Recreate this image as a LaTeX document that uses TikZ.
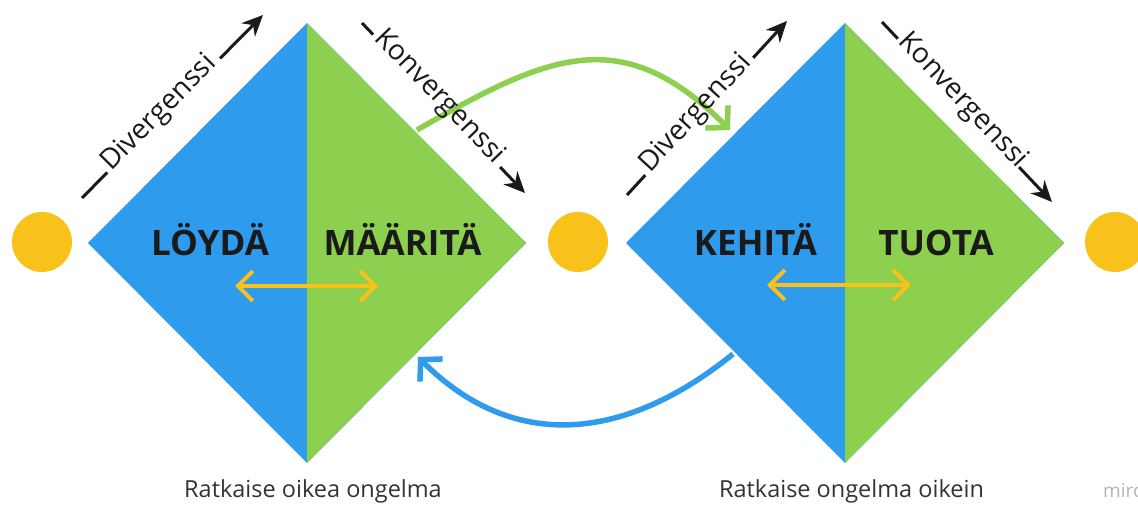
\documentclass[tikz,border=0pt]{standalone}
\usepackage{fontspec}
\setmainfont{Open Sans}
\usetikzlibrary{arrows.meta,calc}
\definecolor{dblue}{HTML}{2F9BEC}
\definecolor{dgreen}{HTML}{8DCF4E}
\definecolor{sun}{HTML}{F8C21A}
\definecolor{ink}{HTML}{1A1A1A}
\definecolor{capt}{HTML}{333333}
\definecolor{wmgrey}{HTML}{B4B4B4}
\begin{document}
\begin{tikzpicture}[x=1pt,y=1pt,
  phase/.style={font=\fontsize{35}{40}\selectfont\bfseries, text=ink, anchor=base, inner sep=0pt},
  flowlbl/.style={font=\fontsize{28}{31}\selectfont, text=ink, inner sep=0pt, anchor=mid},
  lead/.style={draw=ink, line width=3pt},
  flowarrow/.style={draw=ink, line width=3pt, -{Stealth[length=21pt,width=19pt]}},
  swing/.style={line width=4pt, draw=sun,
    {Straight Barb[length=15pt,width=30pt]}-{Straight Barb[length=15pt,width=30pt]}},
  loopback/.style={line width=5.5pt, -{Straight Barb[length=15pt,width=32pt]}},
  caption/.style={font=\fontsize{23.5}{27}\selectfont, text=capt, anchor=base, inner sep=0pt},
  stage/.style={circle, fill=sun, minimum size=60pt, inner sep=0pt}
]
\useasboundingbox (0,0) rectangle (1138,504);
\clip (0,0) rectangle (1138,504);

% first double diamond: discover / define
\coordinate (L1) at (88,261);  \coordinate (T1) at (307,481);
\coordinate (R1) at (526,261); \coordinate (B1) at (307,41);
\fill[dblue]  (L1) -- (T1) -- (R1) -- (B1) -- cycle;
\fill[dgreen] (T1) -- (R1) -- (B1) -- cycle;

% second double diamond: develop / deliver
\coordinate (L2) at (626,261);  \coordinate (T2) at (845,481);
\coordinate (R2) at (1064,261); \coordinate (B2) at (845,41);
\fill[dblue]  (L2) -- (T2) -- (R2) -- (B2) -- cycle;
\fill[dgreen] (T2) -- (R2) -- (B2) -- cycle;

% stage dots
\node[stage] (s0) at (42,262) {};
\node[stage] (s1) at (578,262) {};
\node[stage] (s2) at (1115,262) {};

% iteration loops between the diamonds
\coordinate (gA) at (417,374); \coordinate (gB) at (730,374);
\draw[loopback, draw=dgreen] (gA) to[out=30, in=135, looseness=1.25] (gB);
\coordinate (bA) at (733,150); \coordinate (bB) at (418,147);
\draw[loopback, draw=dblue] (bA) to[out=-141, in=-45, looseness=1.11] (bB);

% phase names
\node[phase] (p1) at (210,248) {LÖYDÄ};
\node[phase] (p2) at (402.5,248) {MÄÄRITÄ};
\node[phase] (p3) at (755.5,248) {KEHITÄ};
\node[phase] (p4) at (936,248) {TUOTA};

% back-and-forth arrows inside the diamonds
\coordinate (w1a) at (235,218); \coordinate (w1b) at (378,218);
\draw[swing] (w1a) -- (w1b);
\coordinate (w2a) at (767,219); \coordinate (w2b) at (911,219);
\draw[swing] (w2a) -- (w2b);

% edge labels: lead dash, text, arrow
\coordinate (dvS1) at (82,306);  \coordinate (dvT1) at (263,489);
\coordinate (dvE1) at ($(dvS1)!36pt!(dvT1)$); \coordinate (dvA1) at ($(dvT1)!61pt!(dvS1)$);
\draw[lead] (dvS1) -- (dvE1);
\path (dvS1) -- (dvT1) node[flowlbl, sloped, pos=0.445] (dv1) {Divergenssi};
\draw[flowarrow] (dvA1) -- (dvT1);

\coordinate (kvS1) at (362,481); \coordinate (kvT1) at (525,311);
\coordinate (kvE1) at ($(kvS1)!16pt!(kvT1)$); \coordinate (kvA1) at ($(kvT1)!36pt!(kvS1)$);
\draw[lead] (kvS1) -- (kvE1);
\path (kvS1) -- (kvT1) node[flowlbl, sloped, pos=0.455] (kv1) {Konvergenssi};
\draw[flowarrow] (kvA1) -- (kvT1);

\coordinate (dvS2) at (627,309); \coordinate (dvT2) at (787,483);
\coordinate (dvE2) at ($(dvS2)!27pt!(dvT2)$); \coordinate (dvA2) at ($(dvT2)!50pt!(dvS2)$);
\draw[lead] (dvS2) -- (dvE2);
\path (dvS2) -- (dvT2) node[flowlbl, sloped, pos=0.45] (dv2) {Divergenssi};
\draw[flowarrow] (dvA2) -- (dvT2);

\coordinate (kvS2) at (882,482); \coordinate (kvT2) at (1052,302);
\coordinate (kvE2) at ($(kvS2)!23pt!(kvT2)$); \coordinate (kvA2) at ($(kvT2)!48pt!(kvS2)$);
\draw[lead] (kvS2) -- (kvE2);
\path (kvS2) -- (kvT2) node[flowlbl, sloped, pos=0.455] (kv2) {Konvergenssi};
\draw[flowarrow] (kvA2) -- (kvT2);

% captions
\node[caption] (c1) at (313,7) {Ratkaise oikea ongelma};
\node[caption] (c2) at (851.5,7) {Ratkaise ongelma oikein};
\node[font=\fontsize{19}{22}\selectfont, text=wmgrey, anchor=base west, inner sep=0pt] (wm) at (1103,7) {miro};
\end{tikzpicture}
\end{document}
